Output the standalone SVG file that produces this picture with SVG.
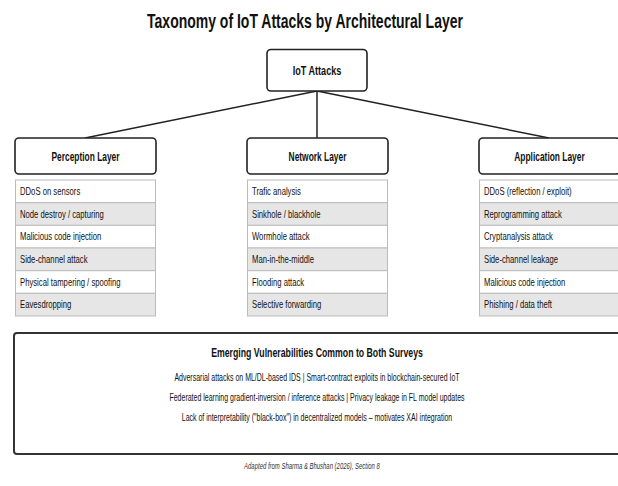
<svg xmlns="http://www.w3.org/2000/svg" width="618" height="486" viewBox="0 0 618 486">
<style>
text{font-family:"Liberation Sans",Arial,sans-serif;fill:#111}
.title{font-size:20px;font-weight:bold}
.node{fill:#fff;stroke:#222;stroke-width:1.6}
.hdr{font-size:12px;font-weight:bold}
.root{font-size:13px;font-weight:bold}
.r0{fill:#fff;stroke:#bbb;stroke-width:1}
.r1{fill:#e6e6e6;stroke:#bbb;stroke-width:1}
.it{font-size:11px}
.em{fill:#fff;stroke:#333;stroke-width:2}
.emt{font-size:12.5px;font-weight:bold}
.eml{font-size:10px}
.foot{font-size:8.5px;font-style:italic;fill:#333}
.conn line{stroke:#222;stroke-width:1.5}
</style>
<rect width="618" height="486" fill="#fff"/>
<text class="title" text-anchor="middle" transform="translate(305 28) scale(0.7 1)">Taxonomy of IoT Attacks by Architectural Layer</text>
<g id="connectors" class="conn">
<line x1="317" y1="91" x2="85" y2="138"/>
<line x1="317" y1="91" x2="317" y2="138"/>
<line x1="317" y1="91" x2="549" y2="138"/>
</g>
<g id="root">
<rect class="node" x="267" y="49.5" width="100" height="41.5" rx="4"/>
<text class="root" text-anchor="middle" transform="translate(317 75) scale(0.7 1)">IoT Attacks</text>
</g>
<g id="perception">
<rect class="node" x="15" y="138" width="141" height="36" rx="4"/>
<text class="hdr" text-anchor="middle" transform="translate(85.5 160.5) scale(0.7 1)">Perception Layer</text>
<rect class="r0" x="15.5" y="180" width="140" height="22.7"/>
<rect class="r1" x="15.5" y="202.7" width="140" height="22.7"/>
<rect class="r0" x="15.5" y="225.3" width="140" height="22.7"/>
<rect class="r1" x="15.5" y="248" width="140" height="22.7"/>
<rect class="r0" x="15.5" y="270.7" width="140" height="22.7"/>
<rect class="r1" x="15.5" y="293.3" width="140" height="22.7"/>
<text class="it" transform="translate(20 195) scale(0.7 1)">DDoS on sensors</text>
<text class="it" transform="translate(20 217.7) scale(0.7 1)">Node destroy / capturing</text>
<text class="it" transform="translate(20 240.3) scale(0.7 1)">Malicious code injection</text>
<text class="it" transform="translate(20 263) scale(0.7 1)">Side-channel attack</text>
<text class="it" transform="translate(20 285.7) scale(0.7 1)">Physical tampering / spoofing</text>
<text class="it" transform="translate(20 308.3) scale(0.7 1)">Eavesdropping</text>
</g>
<g id="network">
<rect class="node" x="247" y="138" width="141" height="36" rx="4"/>
<text class="hdr" text-anchor="middle" transform="translate(317.5 160.5) scale(0.7 1)">Network Layer</text>
<rect class="r0" x="247.5" y="180" width="140" height="22.7"/>
<rect class="r1" x="247.5" y="202.7" width="140" height="22.7"/>
<rect class="r0" x="247.5" y="225.3" width="140" height="22.7"/>
<rect class="r1" x="247.5" y="248" width="140" height="22.7"/>
<rect class="r0" x="247.5" y="270.7" width="140" height="22.7"/>
<rect class="r1" x="247.5" y="293.3" width="140" height="22.7"/>
<text class="it" transform="translate(252 195) scale(0.7 1)">Trafic analysis</text>
<text class="it" transform="translate(252 217.7) scale(0.7 1)">Sinkhole / blackhole</text>
<text class="it" transform="translate(252 240.3) scale(0.7 1)">Wormhole attack</text>
<text class="it" transform="translate(252 263) scale(0.7 1)">Man-in-the-middle</text>
<text class="it" transform="translate(252 285.7) scale(0.7 1)">Flooding attack</text>
<text class="it" transform="translate(252 308.3) scale(0.7 1)">Selective forwarding</text>
</g>
<g id="application">
<rect class="node" x="479" y="138" width="141" height="36" rx="4"/>
<text class="hdr" text-anchor="middle" transform="translate(549.5 160.5) scale(0.7 1)">Application Layer</text>
<rect class="r0" x="479.5" y="180" width="140" height="22.7"/>
<rect class="r1" x="479.5" y="202.7" width="140" height="22.7"/>
<rect class="r0" x="479.5" y="225.3" width="140" height="22.7"/>
<rect class="r1" x="479.5" y="248" width="140" height="22.7"/>
<rect class="r0" x="479.5" y="270.7" width="140" height="22.7"/>
<rect class="r1" x="479.5" y="293.3" width="140" height="22.7"/>
<text class="it" transform="translate(484 195) scale(0.7 1)">DDoS (reflection / exploit)</text>
<text class="it" transform="translate(484 217.7) scale(0.7 1)">Reprogramming attack</text>
<text class="it" transform="translate(484 240.3) scale(0.7 1)">Cryptanalysis attack</text>
<text class="it" transform="translate(484 263) scale(0.7 1)">Side-channel leakage</text>
<text class="it" transform="translate(484 285.7) scale(0.7 1)">Malicious code injection</text>
<text class="it" transform="translate(484 308.3) scale(0.7 1)">Phishing / data theft</text>
</g>
<g id="emerging">
<rect class="em" x="14" y="333" width="620" height="121" rx="3"/>
<text class="emt" text-anchor="middle" transform="translate(317 357) scale(0.7 1)">Emerging Vulnerabilities Common to Both Surveys</text>
<text class="eml" text-anchor="middle" transform="translate(317 381) scale(0.7 1)">Adversarial attacks on ML/DL-based IDS | Smart-contract exploits in blockchain-secured IoT</text>
<text class="eml" text-anchor="middle" transform="translate(317 401) scale(0.7 1)">Federated learning gradient-inversion / inference attacks | Privacy leakage in FL model updates</text>
<text class="eml" text-anchor="middle" transform="translate(317 421) scale(0.7 1)">Lack of interpretability ("black-box") in decentralized models – motivates XAI integration</text>
</g>
<text class="foot" text-anchor="middle" transform="translate(312 469) scale(0.7 1)">Adapted from Sharma &amp; Bhushan (2026), Section 8</text>
</svg>
